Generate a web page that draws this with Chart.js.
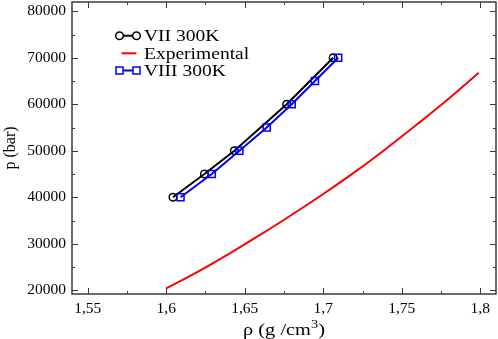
<!DOCTYPE html>
<html><head><meta charset="utf-8">
<script src="https://cdn.jsdelivr.net/npm/chart.js@4.4.1/dist/chart.umd.min.js"></script>
<style>html,body{margin:0;padding:0;background:#fff;}</style>
</head><body>
<canvas id="c" width="498" height="339" style="display:block;width:498px;height:339px"></canvas>
<script>
// ---- data ----
const viiLabel = 'VII 300K';
const viiDensity  = [1.6043, 1.6243, 1.6434, 1.6767, 1.7063];
const viiPressure = [40000, 45000, 50000, 60000, 70000];

const expLabel = 'Experimental';
const expDensity  = [1.600, 1.620, 1.640, 1.660, 1.680, 1.700, 1.720, 1.740, 1.760, 1.780, 1.799];
const expPressure = [20400, 23950, 27850, 31950, 36250, 40700, 45400, 50450, 55750, 61250, 66800];

const viiiLabel = 'VIII 300K';
const viiiDensity  = [1.6091, 1.6290, 1.6466, 1.6640, 1.6799, 1.6947, 1.7095];
const viiiPressure = [40000, 45000, 50000, 55000, 60000, 65000, 70000];

const xTickValues = [1.55, 1.6, 1.65, 1.7, 1.75, 1.8];
const xTickLabels = ['1,55', '1,6', '1,65', '1,7', '1,75', '1,8'];
const yTickValues = [20000, 30000, 40000, 50000, 60000, 70000, 80000];

const xTitleMain = 'ρ (g /cm';
const xTitleSup = '3';
const xTitleEnd = ')';
const yTitle = 'p (bar)';

const FONT = "'Liberation Serif', 'Times New Roman', serif";
const STRETCH = 1.2; // reference text is drawn horizontally widened
const pts = (xs, ys) => xs.map((x, i) => ({x: x, y: ys[i]}));

// frame + inward ticks on all four sides
const frameTicks = {
  id: 'frameTicks',
  afterDraw(chart) {
    const {ctx, chartArea: a, scales: {x, y}} = chart;
    ctx.save();
    ctx.strokeStyle = '#3a3a3a';
    ctx.lineWidth = 1;
    const maj = 6, mn = 3;
    const mid = v => v.slice(0, -1).map((t, i) => (t + v[i + 1]) / 2);
    const line = (x1, y1, x2, y2) => { ctx.beginPath(); ctx.moveTo(x1, y1); ctx.lineTo(x2, y2); ctx.stroke(); };
    [[xTickValues, maj], [mid(xTickValues), mn]].forEach(([vals, len]) => vals.forEach(v => {
      const px = Math.round(x.getPixelForValue(v)) + 0.5;
      line(px, a.bottom, px, a.bottom - len);
      line(px, a.top, px, a.top + len);
    }));
    [[yTickValues, maj], [mid(yTickValues), mn]].forEach(([vals, len]) => vals.forEach(v => {
      const py = Math.round(y.getPixelForValue(v)) + 0.5;
      line(a.left, py, a.left + len, py);
      line(a.right, py, a.right - len, py);
    }));
    ctx.lineWidth = 1.5;
    ctx.strokeRect(a.left, a.top, a.right - a.left, a.bottom - a.top);

    // x axis title with a real superscript
    ctx.fillStyle = '#000';
    ctx.textBaseline = 'alphabetic';
    ctx.textAlign = 'left';
    const big = '17px ' + FONT, small = '12px ' + FONT;
    ctx.font = big; const w1 = ctx.measureText(xTitleMain).width, w3 = ctx.measureText(xTitleEnd).width;
    ctx.font = small; const w2 = ctx.measureText(xTitleSup).width;
    const total = (w1 + w2 + w3) * STRETCH;
    const cx = (a.left + a.right) / 2, base = 334.5;
    ctx.save();
    ctx.translate(cx - total / 2, base);
    ctx.scale(STRETCH, 1);
    ctx.font = big; ctx.fillText(xTitleMain, 0, 0);
    ctx.font = small; ctx.fillText(xTitleSup, w1, -7);
    ctx.font = big; ctx.fillText(xTitleEnd, w1 + w2, 0);
    ctx.restore();
    ctx.restore();
  }
};

// legend drawn inside the plot
const legendInside = {
  id: 'legendInside',
  afterDatasetsDraw(chart) {
    const ctx = chart.ctx;
    ctx.save();
    const lx0 = 119.5, lx1 = 136.5, tx = 144, rows = [35.7, 53.3, 70.5];
    chart.data.datasets.forEach((ds, i) => {
      const yy = rows[i];
      ctx.strokeStyle = ds.borderColor;
      ctx.lineWidth = ds.borderWidth;
      ctx.beginPath(); ctx.moveTo(lx0 + (ds.pointRadius > 0 ? 0 : 2), yy); ctx.lineTo(lx1, yy); ctx.stroke();
      if (ds.pointRadius > 0) {
        ctx.lineWidth = ds.pointBorderWidth;
        [lx0, lx1].forEach(px => {
          ctx.beginPath();
          if (ds.pointStyle === 'rect') {
            const s = ds.pointRadius * Math.SQRT1_2;
            ctx.rect(px - s, yy - s, 2 * s, 2 * s);
          } else {
            ctx.arc(px, yy, ds.pointRadius, 0, Math.PI * 2);
          }
          ctx.fillStyle = '#fff';
          ctx.fill();
          ctx.stroke();
        });
      }
      ctx.save();
      ctx.translate(tx, yy + 5.5);
      ctx.scale(STRETCH + 0.02, 1);
      ctx.fillStyle = '#000';
      ctx.font = '16px ' + FONT;
      ctx.textBaseline = 'alphabetic';
      ctx.textAlign = 'left';
      ctx.fillText(ds.label, 0, 0);
      ctx.restore();
    });
    ctx.restore();
  }
};

new Chart(document.getElementById('c'), {
  type: 'scatter',
  data: {
    datasets: [
      { label: viiLabel, data: pts(viiDensity, viiPressure), showLine: true,
        borderColor: '#000000', backgroundColor: 'rgba(255,255,255,0)', borderWidth: 2,
        pointStyle: 'circle', pointRadius: 3.8, pointBorderWidth: 1.5,
        pointBorderColor: '#000000', pointBackgroundColor: 'rgba(255,255,255,0)', order: 2 },
      { label: expLabel, data: pts(expDensity, expPressure), showLine: true,
        borderColor: '#ff0000', backgroundColor: '#ff0000', borderWidth: 2,
        pointRadius: 0, tension: 0.4, order: 1 },
      { label: viiiLabel, data: pts(viiiDensity, viiiPressure), showLine: true,
        borderColor: '#0000ff', backgroundColor: 'rgba(255,255,255,0)', borderWidth: 2,
        pointStyle: 'rect', pointRadius: 5, pointBorderWidth: 1.5,
        pointBorderColor: '#0000ff', pointBackgroundColor: 'rgba(255,255,255,0)', order: 0 }
    ]
  },
  options: {
    responsive: false,
    animation: false,
    devicePixelRatio: 1,
    layout: { autoPadding: false, padding: { top: 2, right: 2, left: 0, bottom: 0 } },
    plugins: { legend: { display: false }, tooltip: { enabled: false } },
    scales: {
      x: {
        type: 'linear', min: 1.54, max: 1.81,
        grid: { display: false, drawTicks: false },
        border: { display: false },
        afterBuildTicks: s => { s.ticks = xTickValues.map(v => ({value: v})); },
        afterFit: s => { s.height = 45; s.paddingLeft = 0; s.paddingRight = 0; },
        ticks: { color: '#000', font: { family: FONT, size: 15.5 }, padding: 6,
                 maxRotation: 0, autoSkip: false,
                 callback: (v) => xTickLabels[xTickValues.findIndex(t => Math.abs(t - v) < 1e-6)] },
        title: { display: false }
      },
      y: {
        type: 'linear', min: 19200, max: 82000,
        grid: { display: false, drawTicks: false },
        border: { display: false },
        afterBuildTicks: s => { s.ticks = yTickValues.map(v => ({value: v})); },
        afterFit: s => { s.width = 72; s.paddingTop = 0; s.paddingBottom = 0; },
        ticks: { color: '#000', font: { family: FONT, size: 15.5 }, padding: 6,
                 autoSkip: false, callback: v => String(v) },
        title: { display: true, text: yTitle, color: '#000', font: { family: FONT, size: 16 },
                 padding: { top: 1.5, bottom: 0 } }
      }
    }
  },
  plugins: [frameTicks, legendInside]
});
</script>
</body></html>
